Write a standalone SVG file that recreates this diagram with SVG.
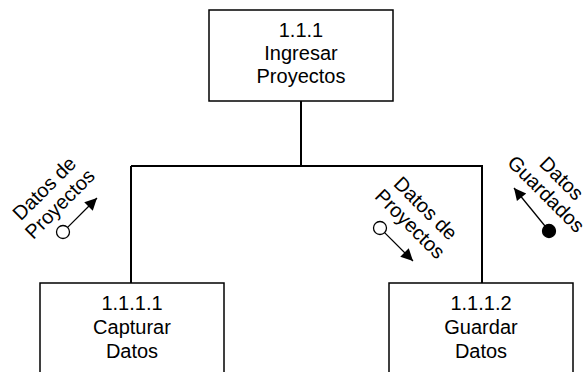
<svg xmlns="http://www.w3.org/2000/svg" width="588" height="372" viewBox="0 0 588 372">
<style>
.box{fill:#fff;stroke:#000;stroke-width:1.5}
.t{font-family:"Liberation Sans",Arial,sans-serif;font-size:20px;fill:#000;text-anchor:middle}
.c{fill:none;stroke:#000;stroke-width:2}
.f{stroke:#000;stroke-width:1.3;fill:none}
</style>
<defs>
<marker id="ah" viewBox="0 0 10 10" refX="10" refY="5" markerWidth="14" markerHeight="12" markerUnits="userSpaceOnUse" orient="auto">
<path d="M0,0 L10,5 L0,10 Z" fill="#000"/>
</marker>
</defs>
<g id="connectors">
<path class="c" d="M301,101 V166 M131,166 H483 M131,166 V283 M482,166 V283"/>
</g>
<g id="n111">
<rect class="box" x="209" y="10" width="184" height="91"/>
<text class="t" x="301" y="37">1.1.1</text>
<text class="t" x="301" y="60">Ingresar</text>
<text class="t" x="301" y="83">Proyectos</text>
</g>
<g id="n1111">
<rect class="box" x="40" y="283" width="184" height="100"/>
<text class="t" x="132" y="310">1.1.1.1</text>
<text class="t" x="132" y="334">Capturar</text>
<text class="t" x="132" y="358">Datos</text>
</g>
<g id="n1112">
<rect class="box" x="389" y="283" width="184" height="100"/>
<text class="t" x="481" y="310">1.1.1.2</text>
<text class="t" x="481" y="334">Guardar</text>
<text class="t" x="481" y="358">Datos</text>
</g>
<g id="flow1">
<circle cx="63" cy="232" r="6.5" fill="#fff" stroke="#000" stroke-width="1.3"/>
<line class="f" x1="67.6" y1="227.4" x2="97" y2="198" marker-end="url(#ah)"/>
<g transform="translate(52,196) rotate(-45)">
<text class="t" x="0" y="-4">Datos de</text>
<text class="t" x="0" y="18">Proyectos</text>
</g>
</g>
<g id="flow2">
<circle cx="380" cy="228" r="6.5" fill="#fff" stroke="#000" stroke-width="1.3"/>
<line class="f" x1="384.6" y1="232.6" x2="413" y2="261" marker-end="url(#ah)"/>
<g transform="translate(418,216) rotate(45)">
<text class="t" x="0" y="-4">Datos de</text>
<text class="t" x="0" y="18">Proyectos</text>
</g>
</g>
<g id="flow3">
<circle cx="549" cy="231" r="6.5" fill="#000" stroke="#000" stroke-width="1.3"/>
<line class="f" x1="545" y1="226" x2="514" y2="188" marker-end="url(#ah)"/>
<g transform="translate(554,186) rotate(45)">
<text class="t" x="0" y="-4">Datos</text>
<text class="t" x="0" y="18">Guardados</text>
</g>
</g>
</svg>
